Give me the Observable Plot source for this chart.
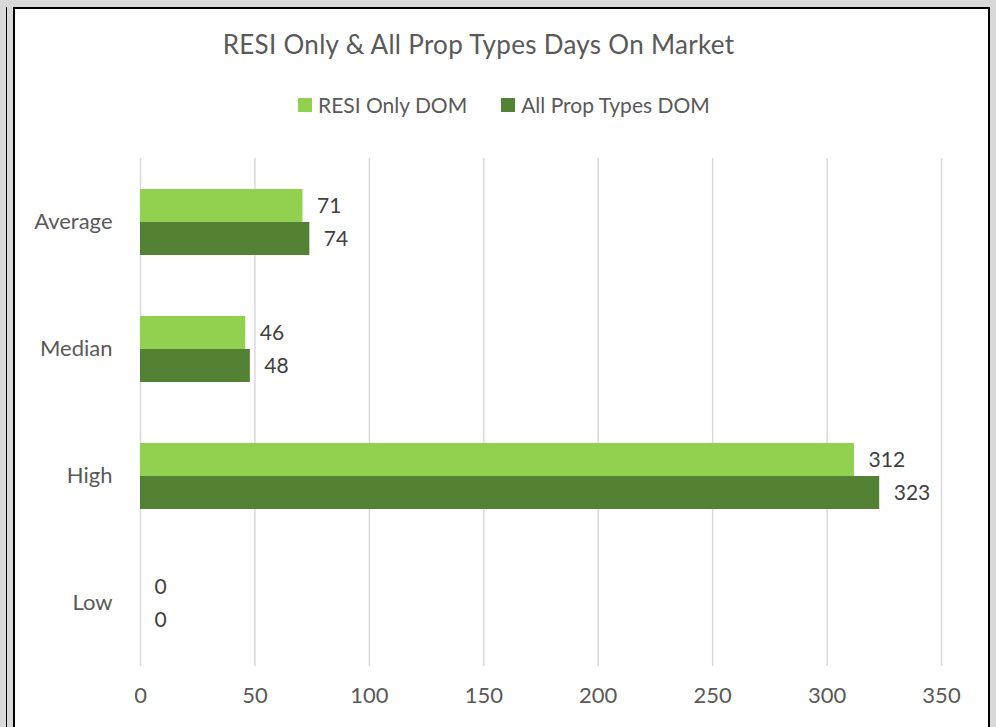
<!DOCTYPE html>
<html>
<head>
<meta charset="utf-8">
<script src="https://cdn.jsdelivr.net/npm/d3@7"></script>
<script src="https://cdn.jsdelivr.net/npm/@observablehq/plot@0.6"></script>
<style>
  html, body { margin: 0; padding: 0; }
  body { width: 996px; height: 727px; background: #d9d9d9; position: relative; overflow: hidden; font-family: Lato, "Open Sans", sans-serif; }
  #outerline { position: absolute; left: 6px; top: 7px; width: 1px; height: 730px; background: #000; }
  #box { position: absolute; left: 13px; top: 7px; width: 973px; height: 730px; background: #fff; border-left: 2px solid #000; border-top: 2px solid #000; border-right: 2px solid #000; box-sizing: content-box; }
  #title { position: absolute; left: 0; top: 28px; width: 957px; text-align: center; font-size: 26px; letter-spacing: 0.3px; color: #595959; }
  #legend { position: absolute; left: 298px; top: 92px; display: flex; gap: 34px; font-size: 21px; color: #595959; white-space: nowrap; }
  .item { display: flex; align-items: center; gap: 6px; }
  .sw { width: 14px; height: 14px; display: inline-block; }
  #chart { position: absolute; left: 14px; top: 140px; }
</style>
</head>
<body>
<div id="outerline"></div>
<div id="box"></div>
<div id="title">RESI Only &amp; All Prop Types Days On Market</div>
<div id="legend"></div>
<div id="chart"></div>
<script>
const categories = ["Average", "Median", "High", "Low"];
const series = ["RESI Only DOM", "All Prop Types DOM"];
const resiValues = [71, 46, 312, 0];
const allValues = [74, 48, 323, 0];
const colors = ["#92d050", "#548235"];
const xTicks = [0, 50, 100, 150, 200, 250, 300, 350];

const data = [];
categories.forEach((c, i) => {
  data.push({category: c, series: series[0], value: resiValues[i]});
  data.push({category: c, series: series[1], value: allValues[i]});
});

const legend = document.getElementById("legend");
series.forEach((s, i) => {
  const it = document.createElement("div");
  it.className = "item";
  it.innerHTML = `<span class="sw" style="background:${colors[i]}"></span><span>${s}</span>`;
  legend.appendChild(it);
});

const chart = Plot.plot({
  width: 974,
  height: 587,
  marginLeft: 126,
  marginRight: 47,
  marginTop: 18,
  marginBottom: 61,
  style: {fontFamily: "Lato, 'Open Sans', sans-serif", fontSize: "20px", color: "#595959", background: "transparent"},
  x: {domain: [0, 350], ticks: xTicks, label: null},
  fy: {domain: categories, padding: 0, label: null},
  y: {domain: series, paddingInner: 0, paddingOuter: 0.9, axis: null},
  color: {domain: series, range: colors},
  marks: [
    Plot.gridX(xTicks, {stroke: "#d9d9d9", strokeOpacity: 1, strokeWidth: 1.5}),
    Plot.barX(data, {x: "value", y: "series", fy: "category", fill: "series"}),
    Plot.text(data, {x: "value", y: "series", fy: "category", text: d => String(d.value), dx: 14, textAnchor: "start", fill: "#404040", fontSize: 21}),
    Plot.axisX(xTicks, {tickSize: 0, tickPadding: 21, fontSize: 22, fill: "#595959", label: null}),
    Plot.axisFy({anchor: "left", tickSize: 0, tickPadding: 28, fontSize: 22, fill: "#595959", label: null})
  ]
});
document.getElementById("chart").appendChild(chart);
</script>
</body>
</html>
